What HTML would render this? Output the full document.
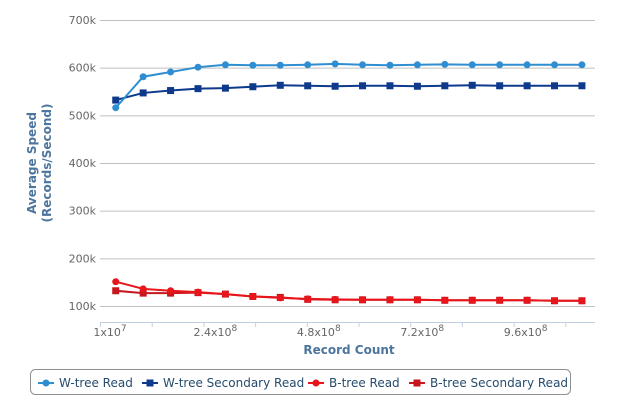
<!DOCTYPE html>
<html><head><meta charset="utf-8"><style>
body{margin:0;background:#fff;font-family:"Liberation Sans","DejaVu Sans",sans-serif}
svg text{font-family:"DejaVu Sans","Liberation Sans",sans-serif}
</style></head><body>
<svg id="chart" width="618" height="412" viewBox="0 0 618 412" xmlns="http://www.w3.org/2000/svg">
<g id="grid"></g>
<g id="axes"></g>
<g id="series"></g>
<text transform="translate(40,163) rotate(-90)" text-anchor="middle" font-size="12" font-weight="bold" fill="#4d759e"><tspan x="0" dy="-4">Average Speed</tspan><tspan x="0" dy="15">(Records/Second)</tspan></text>
<text x="349" y="354" text-anchor="middle" font-size="12" font-weight="bold" fill="#4d759e">Record Count</text>
<rect x="30.5" y="369.5" width="540" height="25" rx="5" fill="#fff" stroke="#909090"/>
<g id="legend"></g>
</svg>
<script>
const xValues=[];for(let i=0;i<18;i++){xValues.push(4.5e7+i*6.1e7);}
const wtreeRead=[516,581,591,601,606,605,605,606,608,606,605,606,607,606,606,606,606,606];
const wtreeSecondary=[532,547,552,556,557,560,563,562,561,562,562,561,562,563,562,562,562,562];
const btreeRead=[151,136,132,129,125,120,117,115,114,113,113,113,112,112,112,112,111,111];
const btreeSecondary=[132,127,127,128,125,120,118,114,113,113,113,113,112,112,112,112,111,111];
const yTicks=[100,200,300,400,500,600,700];
const xTickValues=[];for(let n=0;n<10;n++){xTickValues.push(1e7+n*1.15e8);}
const xTickLabels=[["1x10","7"],["2.4x10","8"],["4.8x10","8"],["7.2x10","8"],["9.6x10","8"]];
const NS="http://www.w3.org/2000/svg";
function X(v){return 100+(v-1e7)*51.7/1.15e8;}
function Y(k){return 306-(k-100)*286/600;}
function mk(tag,attrs,parent){const e=document.createElementNS(NS,tag);for(const a in attrs)e.setAttribute(a,attrs[a]);parent.appendChild(e);return e;}
const grid=document.getElementById('grid'),axes=document.getElementById('axes'),ser=document.getElementById('series'),leg=document.getElementById('legend');
yTicks.forEach(t=>{
 const l=mk('line',{x1:100,x2:595,y1:Y(t)+0.5,y2:Y(t)+0.5,stroke:'#c0c0c0'},grid);
 
 
 const tx=mk('text',{x:96,y:Y(t)+4,'text-anchor':'end','font-size':11,fill:'#666'},axes);
 tx.textContent=t+'k';
 
 
});
const base=mk('line',{x1:100,x2:595,y1:322.5,y2:322.5,stroke:'#c0d0e0'},axes);


xTickValues.forEach((v,n)=>{
 const t=mk('line',{x1:X(v)+0.5,x2:X(v)+0.5,y1:322,y2:327,stroke:'#c0d0e0'},axes);
 
 
 if(n%2===0){const lb=xTickLabels[n/2];
  const tx=mk('text',{x:X(v)+(n===0?10:12),y:336,'text-anchor':'middle','font-size':11,fill:'#666'},axes);
  
  
  const a=mk('tspan',{},tx);a.textContent=lb[0];
  const b=mk('tspan',{dy:-5,'font-size':9},tx);b.textContent=lb[1];}
});
const S=[
 {name:'W-tree Read',data:wtreeRead,color:'#2f8ed1',m:'c'},
 {name:'W-tree Secondary Read',data:wtreeSecondary,color:'#0d3a8c',m:'s'},
 {name:'B-tree Read',data:btreeRead,color:'#e8161b',m:'c'},
 {name:'B-tree Secondary Read',data:btreeSecondary,color:'#c8161e',m:'s'}];
function marker(m,x,y,c,p){if(m==='c')return mk('circle',{cx:x,cy:y,r:3.5,fill:c},p);return mk('rect',{x:x-3.5,y:y-3.5,width:7,height:7,fill:c},p);}
[3,2,1,0].forEach(si=>{const s=S[si];
 const g=mk('g',{},ser);
 
 
 const pts=s.data.map((d,i)=>X(xValues[i])+','+Y(d)).join(' ');
 mk('polyline',{points:pts,fill:'none',stroke:s.color,'stroke-width':2},g);
 s.data.forEach((d,i)=>{const p=marker(s.m,X(xValues[i]),Y(d),s.color,g);
  
  });
});
const lx=[38,142,308,409];
S.forEach((s,i)=>{
 const g=mk('g',{},leg);
 
 
 mk('line',{x1:lx[i],x2:lx[i]+16,y1:383,y2:383,stroke:s.color,'stroke-width':2},g);
 marker(s.m,lx[i]+8,383,s.color,g);
 const t=mk('text',{x:lx[i]+21,y:387,'font-size':12,fill:'#274b6d'},g);t.textContent=s.name;
});
</script>
</body></html>
